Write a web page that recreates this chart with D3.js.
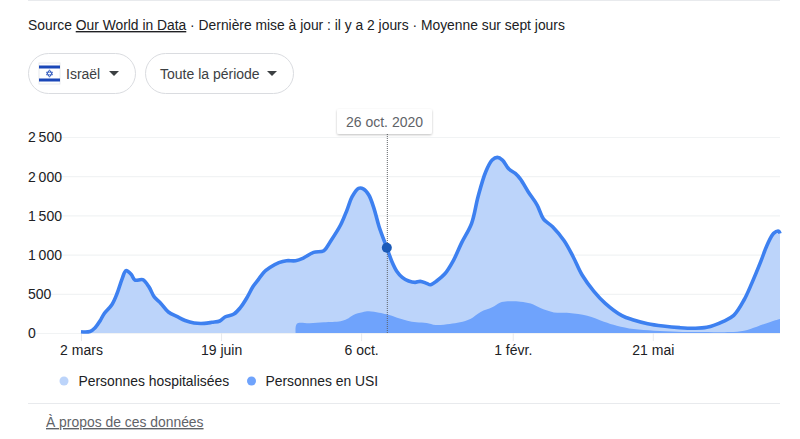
<!DOCTYPE html>
<html lang="fr">
<head>
<meta charset="utf-8">
<title>Israël</title>
<script src="https://cdn.jsdelivr.net/npm/d3@7"></script>
<style>
  html, body { margin: 0; background: #fff; }
  svg { display: block; }
  text { font-family: "Liberation Sans", Arial, sans-serif; font-size: 14px; fill: #202124; }
  .domain { display: none; }
  .grid line { stroke: #f1f3f4; stroke-width: 1.2; }
  .muted { fill: #5f6368; }
</style>
</head>
<body>
<svg id="chart" width="800" height="439"></svg>
<script>
// days counted from 2 March 2020
var startDate = new Date(2020, 2, 2);

var hospDays = [0, 7, 11, 15, 18, 24, 28, 32, 35, 39, 42, 48, 53, 57, 62, 68, 75, 81, 88, 96, 102, 108, 112, 119, 124, 129, 134, 138, 142, 147,
  154, 160, 167, 173, 181, 189, 194, 202, 207, 211, 216, 220, 224, 228, 232, 238, 242, 246, 250, 255, 260, 264, 269, 272, 277, 283, 290, 296,
  304, 309, 315, 320, 324, 328, 333, 338, 342, 348, 355, 360, 367, 376, 383, 390, 399, 408, 421, 430, 441, 453, 466, 477, 487, 500, 508, 516,
  522, 529, 534, 539, 543, 544.5];
var hospValues = [15, 20, 68, 160, 246, 360, 500, 690, 795, 750, 675, 680, 585, 460, 380, 268, 208, 160, 128, 123, 136, 153, 204, 242, 323, 446, 595, 680, 770, 835,
  897, 922, 922, 956, 1028, 1050, 1165, 1377, 1568, 1738, 1845, 1836, 1760, 1590, 1356, 1088, 910, 782, 710, 663, 646, 659, 633, 616, 667, 752, 931, 1143,
  1398, 1738, 2057, 2206, 2240, 2206, 2091, 2036, 1963, 1802, 1632, 1453, 1356, 1177, 973, 740, 535, 378, 221, 166, 119, 89, 68, 60, 72, 149, 225, 421,
  633, 910, 1122, 1271, 1300, 1270];

var icuDays = [167, 168, 178, 189, 202, 207, 212, 219, 224, 232, 238, 246, 254, 261.5, 269, 276, 287, 295, 303, 311, 320, 326, 332, 342, 350, 358, 368, 380, 394,
  407, 417, 430, 446, 464, 480, 505, 516, 526, 537, 544.5];
var icuValues = [0, 119, 123, 136, 149, 178, 230, 264, 276, 259, 238, 196, 157, 136, 128, 102, 115, 136, 178, 268, 327, 387, 404, 400, 375, 315, 263, 255, 221,
  145, 94, 51, 30, 17, 13, 13, 30, 81, 145, 178];

var yTicks = [0, 500, 1000, 1500, 2000, 2500];
var xTickDays = [0, 109, 218, 336, 445];
var xTickLabels = ["2 mars", "19 juin", "6 oct.", "1 févr.", "21 mai"];
var legendLabels = ["Personnes hospitalisées", "Personnes en USI"];
var cursorDay = 238;
var cursorLabel = "26 oct. 2020";

var blueLine = "#3d80f0", blueLight = "#bcd4fa", blueMid = "#6fa3fc", blueDark = "#1a5ab8";

var svg = d3.select("#chart");
var toDate = function (d) { return d3.timeDay.offset(startDate, Math.floor(d)); };

var x = d3.scaleTime().domain([startDate, toDate(544.5)]).range([81, 780]);
var y = d3.scaleLinear().domain([0, 2500]).range([333, 137]);

// header
svg.append("line").attr("x1", 28).attr("x2", 780).attr("y1", 0.5).attr("y2", 0.5).attr("stroke", "#e8eaed");
var source = svg.append("text").attr("x", 28).attr("y", 30).style("font-size", "13.85px");
source.append("tspan").text("Source ");
source.append("tspan").attr("text-decoration", "underline").text("Our World in Data");
source.append("tspan").text(" · Dernière mise à jour : il y a 2 jours · Moyenne sur sept jours");

// selectors
var pills = [
  { x: 28, w: 107, label: "Israël", tx: 66, ax: 114 },
  { x: 145, w: 148, label: "Toute la période", tx: 160, ax: 272 }
];
pills.forEach(function (p) {
  svg.append("rect").attr("x", p.x + 0.5).attr("y", 53.5).attr("width", p.w).attr("height", 40).attr("rx", 20)
    .attr("fill", "#fff").attr("stroke", "#dadce0");
  svg.append("text").attr("x", p.tx).attr("y", 79).style("fill", "#3c4043").text(p.label);
  svg.append("path").attr("d", d3.line()([[p.ax - 5, 71], [p.ax + 5, 71], [p.ax, 76]])).attr("fill", "#3c4043");
});

// flag
var flag = svg.append("g").attr("transform", "translate(39,63)");
flag.append("rect").attr("width", 21).attr("height", 21).attr("fill", "#fff").attr("stroke", "#e8eaed");
flag.append("rect").attr("y", 2.5).attr("width", 21).attr("height", 3).attr("fill", "#1a47b8");
flag.append("rect").attr("y", 15.5).attr("width", 21).attr("height", 3).attr("fill", "#1a47b8");
flag.append("path").attr("d", "M10.5 6.8l3 5.1h-6zM10.5 14.2l-3-5.1h6z").attr("fill", "none").attr("stroke", "#1a47b8").attr("stroke-width", 0.8);

// axes
var yAxis = d3.axisLeft(y).tickValues(yTicks).tickSize(-745).tickPadding(0)
  .tickFormat(function (d) { return d3.format(",")(d).replace(",", "\u202f"); });
var yG = svg.append("g").attr("class", "grid").attr("transform", "translate(35,0)").call(yAxis);
yG.selectAll("line").attr("x2", 745);
yG.selectAll("text").attr("x", -7).attr("text-anchor", "start").attr("dy", "0.35em");

var xAxis = d3.axisBottom(x).tickValues(xTickDays.map(toDate)).tickSize(8).tickPadding(4)
  .tickFormat(function (d, i) { return xTickLabels[i]; });
var xG = svg.append("g").attr("transform", "translate(0,333)").call(xAxis);
xG.selectAll("line").attr("stroke", "#e8eaed");
xG.selectAll("text").style("font-size", "14px").style("font-family", '"Liberation Sans", Arial, sans-serif');

// series
var hosp = hospDays.map(function (d, i) { return { date: toDate(d), value: hospValues[i] }; });
var icu = icuDays.map(function (d, i) { return { date: toDate(d), value: icuValues[i] }; });

var curve = d3.curveCatmullRom.alpha(0.5);
var area = d3.area().x(function (d) { return x(d.date); }).y0(y(0)).y1(function (d) { return y(d.value); }).curve(curve);
var line = d3.line().x(function (d) { return x(d.date); }).y(function (d) { return y(d.value); }).curve(curve);

svg.append("path").datum(hosp).attr("d", area).attr("fill", blueLight);
svg.append("path").datum(icu).attr("d", area).attr("fill", blueMid);
svg.append("path").datum(hosp).attr("d", line).attr("fill", "none").attr("stroke", blueLine)
  .attr("stroke-width", 3.6).attr("stroke-linejoin", "round");

// cursor
var cx = x(toDate(cursorDay));
var cy = y(hospValues[hospDays.indexOf(cursorDay)]);
svg.append("line").attr("x1", cx + 0.5).attr("x2", cx + 0.5).attr("y1", 134).attr("y2", 333)
  .attr("stroke", "#5f6368").attr("stroke-width", 1).attr("stroke-dasharray", "1,1");
svg.append("circle").attr("cx", cx).attr("cy", cy).attr("r", 5).attr("fill", blueDark);

var filter = svg.append("defs").append("filter").attr("id", "tipShadow")
  .attr("x", "-20%").attr("y", "-30%").attr("width", "140%").attr("height", "180%");
filter.append("feDropShadow").attr("dx", 0).attr("dy", 1).attr("stdDeviation", 1.2)
  .attr("flood-color", "#000").attr("flood-opacity", 0.25);
svg.append("rect").attr("x", 337).attr("y", 109).attr("width", 95).attr("height", 25).attr("rx", 2)
  .attr("fill", "#fff").attr("filter", "url(#tipShadow)");
svg.append("text").attr("class", "muted").attr("x", 384.5).attr("y", 126.5).attr("text-anchor", "middle").text(cursorLabel);

// legend
[[64, 78.5, blueLight], [251.5, 265.5, blueMid]].forEach(function (l, i) {
  svg.append("circle").attr("cx", l[0]).attr("cy", 381).attr("r", 4.5).attr("fill", l[2]);
  svg.append("text").attr("x", l[1]).attr("y", 386).style("font-size", "13.9px").text(legendLabels[i]);
});

// footer
svg.append("line").attr("x1", 28).attr("x2", 780).attr("y1", 403.5).attr("y2", 403.5).attr("stroke", "#e8eaed");
svg.append("text").attr("class", "muted").attr("x", 46).attr("y", 427).style("font-size", "13.9px").attr("text-decoration", "underline").text("À propos de ces données");
</script>
</body>
</html>
